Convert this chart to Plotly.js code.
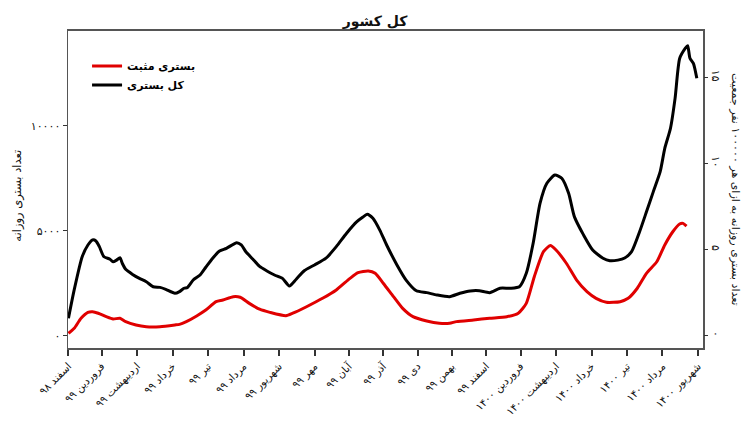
<!DOCTYPE html>
<html>
<head>
<meta charset="utf-8">
<script src="https://cdn.plot.ly/plotly-3.0.1.min.js"></script>
<style>
html,body{margin:0;padding:0;background:#fff;}
#chart{width:750px;height:430px;}
</style>
</head>
<body>
<div id="chart"></div>
<script>
// Days counted from 1 Esfand 1398
var totalDays = [0,5,12,17,21,24,27,31,36,39,42,45,47,50,56,62,68,74,80,85,93,97,101,104,109,115,120,126,132,138,147,151,155,161,167,173,180,187,193,199,206,215,225,234,243,252,257,261,266,272,278,287,295,304,313,322,333,342,351,359,368,377,386,394,400,406,412,418,425,431,437,442,450,458,467,473,480,486,492,499,505,511,517,521,526,530,534,539,541,543,546,549];
var totalVals = [830,2180,3760,4320,4560,4510,4240,3760,3650,3520,3600,3710,3450,3160,2920,2730,2570,2330,2300,2210,2020,2100,2260,2300,2650,2890,3260,3690,4030,4160,4430,4320,4000,3650,3300,3095,2890,2730,2370,2690,3095,3370,3690,4240,4880,5430,5640,5780,5590,5030,4320,3370,2650,2140,2050,1940,1860,2020,2130,2140,2050,2260,2260,2330,2970,4400,6300,7260,7650,7500,6780,5670,4800,4080,3690,3570,3600,3700,4000,4950,5900,6860,7810,8920,9880,11300,13200,13690,13810,13210,12970,12260];

var positiveDays = [0,5,11,17,21,26,33,39,45,50,59,68,80,93,97,103,112,120,129,135,144,150,158,167,176,190,196,208,222,234,246,253,262,268,275,284,292,301,313,324,333,339,354,368,383,393,400,407,415,421,426,435,444,453,461,470,482,489,497,505,514,521,528,534,537,540];
var positiveVals = [110,350,830,1110,1140,1070,905,795,830,670,510,430,430,510,540,670,940,1220,1620,1700,1860,1830,1540,1260,1110,950,1070,1380,1780,2180,2730,3000,3080,2970,2500,1860,1300,905,700,590,590,670,750,830,905,1070,1540,2810,4000,4290,4080,3450,2650,2100,1780,1590,1620,1780,2260,2970,3520,4320,4950,5320,5350,5220];

var monthTickDays = [0,29,60,91,122,153,184,215,245,275,305,335,365,395,426,457,488,519,550];
var monthLabels = ['اسفند ۹۸','فروردین ۹۹','اردیبهشت ۹۹','خرداد ۹۹','تیر ۹۹','مرداد ۹۹','شهریور ۹۹','مهر ۹۹','آبان ۹۹','آذر ۹۹','دی ۹۹','بهمن ۹۹','اسفند ۹۹','فروردین ۱۴۰۰','اردیبهشت ۱۴۰۰','خرداد ۱۴۰۰','تیر ۱۴۰۰','مرداد ۱۴۰۰','شهریور ۱۴۰۰'];

var leftTickVals = [0,5000,10000];
var leftTickText = ['۰','۵۰۰۰','۱۰۰۰۰'];
var rightTickVals = [0,5,10,15];
var rightTickText = ['۰','۵','۱۰','۱۵'];

var seriesNames = ['بستری مثبت','کل بستری'];
var titleText = 'کل کشور';
var leftTitle = 'تعداد بستری روزانه';
var rightTitle = 'تعداد بستری روزانه به ازای هر ۱۰۰۰۰۰ نفر جمعیت';

var FONT = 'DejaVu Sans, Noto Sans, sans-serif';

var traces = [
  {x: positiveDays, y: positiveVals, name: seriesNames[0], type: 'scatter', mode: 'lines',
   line: {color: '#e00000', width: 3, shape: 'spline', smoothing: 0.6}},
  {x: totalDays, y: totalVals, name: seriesNames[1], type: 'scatter', mode: 'lines',
   line: {color: '#000000', width: 3, shape: 'spline', smoothing: 0.6}},
  {x: [0], y: [0], yaxis: 'y2', type: 'scatter', mode: 'markers', showlegend: false,
   hoverinfo: 'skip', marker: {opacity: 0}}
];

var layout = {
  width: 750, height: 430,
  margin: {l: 68, r: 47, t: 31, b: 82},
  paper_bgcolor: '#fff', plot_bgcolor: '#fff',
  font: {family: FONT, size: 10, color: '#111'},
  title: {text: titleText, x: 0.5, xanchor: 'center', y: 0.952, yanchor: 'middle',
          font: {family: FONT, size: 14, color: '#111', weight: 'bold'}},
  showlegend: true,
  legend: {x: 0.03, y: 0.935, xanchor: 'left', yanchor: 'top', bgcolor: 'rgba(0,0,0,0)',
           font: {family: FONT, size: 11, color: '#000', weight: 'bold'}, tracegroupgap: 0},
  xaxis: {range: [-0.4, 554.4], tickmode: 'array', tickvals: monthTickDays, ticktext: monthLabels,
          tickangle: -45, ticks: 'outside', ticklen: 6, tickwidth: 2, tickcolor: '#333',
          showline: true, linecolor: '#555', linewidth: 2, mirror: true, showgrid: false, zeroline: false,
          tickfont: {family: FONT, size: 10.5, color: '#111'}},
  yaxis: {range: [-586, 14510], tickmode: 'array', tickvals: leftTickVals, ticktext: leftTickText,
          ticks: 'outside', ticklen: 4, tickwidth: 1.5, tickcolor: '#333',
          showline: true, linecolor: '#555', linewidth: 1.5, mirror: true, showgrid: false, zeroline: false,
          tickfont: {family: FONT, size: 11, color: '#111'}},
  yaxis2: {overlaying: 'y', side: 'right', range: [-0.714, 17.69], tickmode: 'array',
           tickvals: rightTickVals, ticktext: rightTickText, tickangle: 90,
           ticks: 'outside', ticklen: 4, tickwidth: 1.5, tickcolor: '#333',
           showline: false, showgrid: false, zeroline: false,
           tickfont: {family: FONT, size: 11, color: '#111'}},
  annotations: [
    {text: leftTitle, xref: 'paper', yref: 'paper', x: -0.079, y: 0.48, textangle: -90,
     showarrow: false, xanchor: 'center', yanchor: 'middle', font: {family: FONT, size: 11.5, color: '#111'}},
    {text: rightTitle, xref: 'paper', yref: 'paper', x: 1.051, y: 0.5, textangle: 90,
     showarrow: false, xanchor: 'center', yanchor: 'middle', font: {family: FONT, size: 11, color: '#111'}}
  ]
};

Plotly.newPlot('chart', traces, layout, {displayModeBar: false, staticPlot: true});
</script>
</body>
</html>
